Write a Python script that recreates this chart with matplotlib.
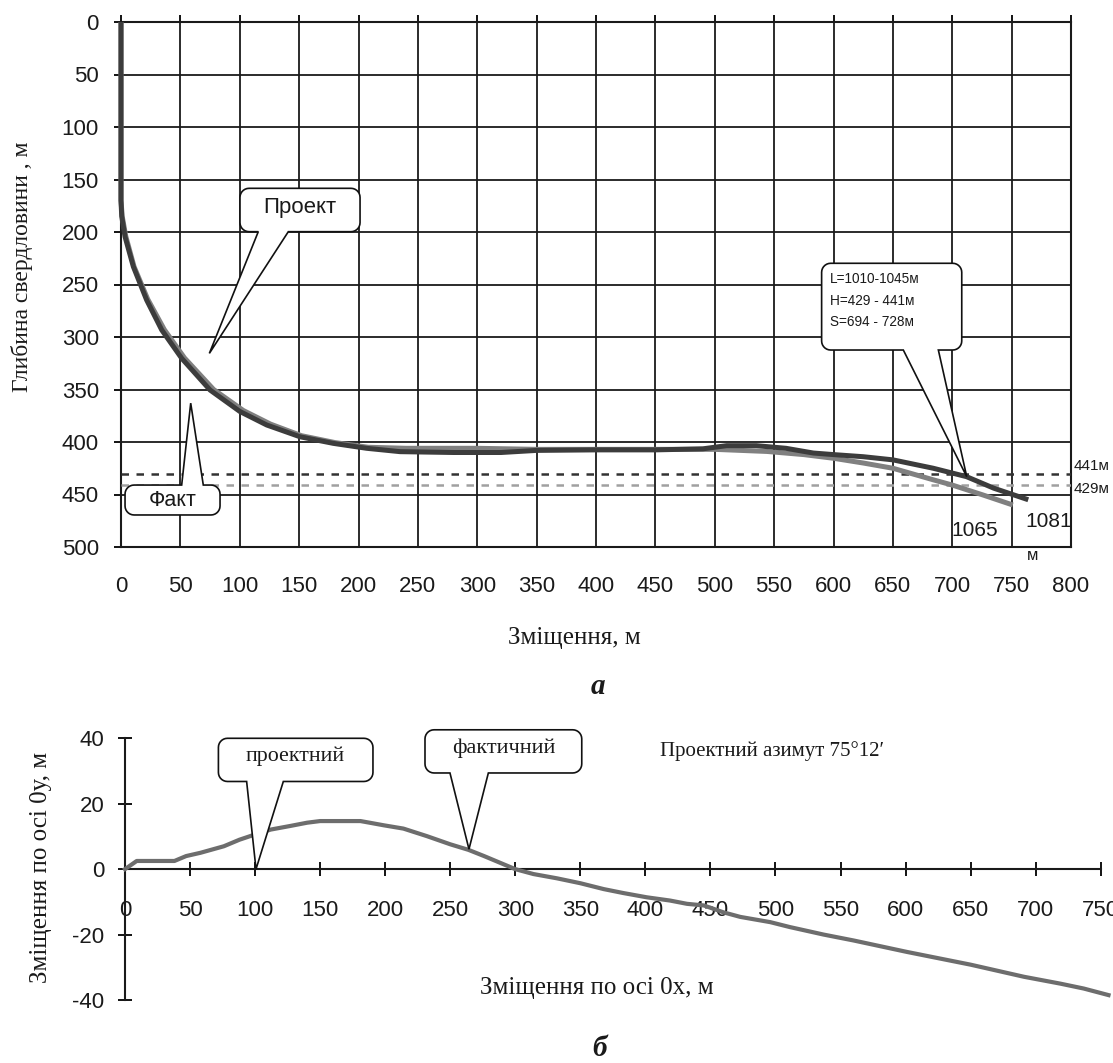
import numpy as np
import matplotlib
matplotlib.use("Agg")
import matplotlib.pyplot as plt
from matplotlib.patches import Polygon
from matplotlib.transforms import IdentityTransform

plt.rcParams["axes.unicode_minus"] = False

# ---------------- data ----------------
# top chart: horizontal displacement (m) vs depth (m)
fact_x = [0, 0, 0, 0.6, 3.4, 10.4, 21.6, 34.3, 51.1, 75, 100.2, 122.7, 150.7, 178.8, 206.9, 235,
          280, 320, 350, 400, 450, 490, 510, 535, 560, 583, 600, 625, 650, 684, 712, 735, 764]
fact_h = [0, 100, 170, 185, 204.5, 233, 264.8, 293.3, 320.3, 350.5, 371, 383.8, 395, 401.3, 406, 409.2,
          410, 410, 408, 407.5, 407.5, 406.5, 403.5, 403.5, 406, 410.5, 412, 414, 417, 425, 433, 444, 455]

proj_x = [0, 0, 0, 1, 4, 11, 22.5, 36.5, 53.5, 78, 103, 126, 152, 180, 208, 240,
          300, 350, 400, 450, 500, 544, 575, 600, 625, 650, 684, 700, 726, 751]
proj_h = [0, 100, 170, 185, 204, 233, 264, 293, 320, 350, 370, 383, 394, 400.5, 405, 406,
          406, 407, 407, 407, 407, 409, 412, 415.5, 420, 425, 436, 441, 450.5, 460]

level_dark = 430   # labelled "441м"
level_light = 441  # labelled "429м"

top_xticks = list(range(0, 801, 50))
top_yticks = list(range(0, 501, 50))

# bottom chart: displacement along 0x vs along 0y
bx = [0, 9, 38, 47, 58, 76, 88, 100, 112, 127, 140, 150, 181, 188, 199, 214, 232, 250, 264, 276, 288,
      300, 314, 332, 350, 368, 383, 401, 419, 432, 445, 460, 473, 496, 511, 537, 560, 601, 650, 691,
      719, 737, 756]
by = [0, 2.5, 2.5, 4, 5, 7, 9, 10.6, 12.1, 13.2, 14.2, 14.7, 14.7, 14.2, 13.4, 12.4, 10.1, 7.6, 5.9,
      4.0, 2.0, 0, -1.5, -2.8, -4.3, -6.1, -7.3, -8.6, -9.6, -10.6, -11.1, -13.2, -14.6, -16.2, -17.7,
      -20, -21.8, -25.3, -29.2, -32.9, -35, -36.5, -38.5]

bot_xticks = list(range(0, 751, 50))
bot_yticks = [-40, -20, 0, 20, 40]

# ---------------- figure ----------------
W, H = 1113, 1063
DPI = 100
fig = plt.figure(figsize=(W / DPI, H / DPI), dpi=DPI)
fig.patch.set_facecolor("white")

SANS = ["Liberation Sans", "DejaVu Sans"]
SERIF = ["Liberation Serif", "DejaVu Serif"]
TICK_FS = 16
INK = "#1a1a1a"

def fx(px):
    return px / W

def fy(py):
    return 1 - py / H

# ---------- top axes ----------
ax1 = fig.add_axes([fx(121), fy(547), 950 / W, 525 / H])
ax1.set_xlim(0, 800)
ax1.set_ylim(500, 0)
ax1.set_xticks(top_xticks)
ax1.set_yticks(top_yticks)
ax1.grid(True, color=INK, lw=1.3)
ax1.set_axisbelow(True)
for s in ax1.spines.values():
    s.set_color(INK)
    s.set_linewidth(1.5)
ax1.tick_params(axis="x", top=True, bottom=False, labeltop=False, labelbottom=True,
                direction="out", length=5, width=1.3, pad=16, labelsize=TICK_FS)
ax1.tick_params(axis="y", left=True, direction="out", length=5, width=1.3, pad=11,
                labelsize=TICK_FS)
for lab in ax1.get_xticklabels() + ax1.get_yticklabels():
    lab.set_fontfamily(SANS)
    lab.set_color(INK)

ax1.axhline(level_dark, color="#333333", lw=1.8, ls=(0, (3, 3)), zorder=3)
ax1.axhline(level_light, color="#a0a0a0", lw=1.8, ls=(0, (3, 3)), zorder=3)

ax1.plot(proj_x, proj_h, color="#808080", lw=3.6, solid_capstyle="butt", zorder=4, clip_on=False)
ax1.plot(fact_x, fact_h, color="#3c3c3c", lw=3.6, solid_capstyle="butt", zorder=5, clip_on=False)

ax1.text(802, 423, "441м", fontsize=11, family=SANS, color=INK, va="center", ha="left",
         clip_on=False)
ax1.text(802, 445, "429м", fontsize=11, family=SANS, color=INK, va="center", ha="left",
         clip_on=False)
ax1.text(719, 484, "1065", fontsize=15, family=SANS, color=INK, ha="center", va="center")
ax1.text(781, 475.5, "1081", fontsize=15, family=SANS, color=INK, ha="center", va="center")
ax1.text(768, 508, "м", fontsize=12, family=SANS, color=INK, ha="center", va="center",
         clip_on=False)

# ---------- bottom axes ----------
ax2 = fig.add_axes([fx(125), fy(1000), 975.7 / W, 261.7 / H])
ax2.set_xlim(0, 750)
ax2.set_ylim(-40, 40)
ax2.set_xticks(bot_xticks)
ax2.set_yticks(bot_yticks)
ax2.spines["left"].set_position(("data", 0))
ax2.spines["bottom"].set_position(("data", 0))
ax2.spines["top"].set_visible(False)
ax2.spines["right"].set_visible(False)
for s in ("left", "bottom"):
    ax2.spines[s].set_color(INK)
    ax2.spines[s].set_linewidth(1.5)
ax2.tick_params(axis="x", direction="inout", length=10, width=1.3, pad=17, labelsize=TICK_FS)
ax2.tick_params(axis="y", direction="inout", length=10, width=1.3, pad=10, labelsize=TICK_FS)
for lab in ax2.get_xticklabels() + ax2.get_yticklabels():
    lab.set_fontfamily(SANS)
    lab.set_color(INK)
ax2.plot(bx, by, color="#6d6d6d", lw=3.0, clip_on=False, zorder=4)

# ---------- callouts ----------
def callout(ax, box, base, tip, side="bottom", r=9, lw=1.2):
    """box=(x0,x1,ya,yb) in data, base=(xa,xb), tip=(x,y) in data."""
    T = ax.transData
    (x0, ya) = T.transform((box[0], box[2]))
    (x1, yb) = T.transform((box[1], box[3]))
    ylo, yhi = min(ya, yb), max(ya, yb)
    xl, xr = min(x0, x1), max(x0, x1)
    ba = T.transform((base[0], box[2]))[0]
    bb = T.transform((base[1], box[2]))[0]
    ba, bb = min(ba, bb), max(ba, bb)
    tx, ty = T.transform(tip)
    pts = []
    def arc(cx, cy, a0, a1):
        for a in np.linspace(np.radians(a0), np.radians(a1), 8):
            pts.append((cx + r * np.cos(a), cy + r * np.sin(a)))
    arc(xl + r, ylo + r, 180, 270)
    if side == "bottom":
        pts += [(ba, ylo), (tx, ty), (bb, ylo)]
    arc(xr - r, ylo + r, 270, 360)
    arc(xr - r, yhi - r, 0, 90)
    if side == "top":
        pts += [(bb, yhi), (tx, ty), (ba, yhi)]
    arc(xl + r, yhi - r, 90, 180)
    poly = Polygon(pts, closed=True, facecolor="white", edgecolor="#111111", lw=lw,
                   transform=IdentityTransform(), zorder=10, clip_on=False)
    ax.add_artist(poly)

# top chart callouts (data coordinates of ax1: x, depth)
callout(ax1, (100.2, 201.3, 199.7, 158.4), (115.6, 140.9), (74.4, 315.6), side="bottom")
ax1.text(150.7, 177, "Проект", fontsize=16, family=SANS, color=INK,
         ha="center", va="center", zorder=11)

callout(ax1, (3.4, 83.4, 441, 469.5), (51.1, 69.3), (58.7, 363), side="top")
ax1.text(43.4, 456, "Факт", fontsize=15.5, family=SANS, color=INK,
         ha="center", va="center", zorder=11, clip_on=False)

callout(ax1, (590, 708, 312.4, 229.8), (658.8, 688.3), (712.2, 433), side="bottom")
for yy, t in zip([245, 265.5, 286], ["L=1010-1045м", "H=429 - 441м", "S=694 - 728м"]):
    ax1.text(597, yy, t, fontsize=9.8, family=SANS, color=INK, ha="left", va="center",
             zorder=11)

# bottom chart callouts
callout(ax2, (71.8, 190.6, 26.8, 40.0), (93.5, 121.7), (100.7, 0), side="bottom")
ax2.text(131, 34.4, "проектний", fontsize=15.8, family=SERIF, color=INK,
         ha="center", va="center", zorder=11, clip_on=False)
callout(ax2, (230.6, 351.1, 29.4, 42.6), (249.8, 279.3), (264.4, 6.1), side="bottom")
ax2.text(291, 37, "фактичний", fontsize=16, family=SERIF, color=INK,
         ha="center", va="center", zorder=11, clip_on=False)
ax2.text(411, 36, "Проектний азимут 75°12′", fontsize=15, family=SERIF, color=INK,
         ha="left", va="center", clip_on=False)

# ---------- axis titles / captions ----------
fig.text(fx(22), fy(267), "Глибина свердловини , м", rotation=90, fontsize=17, family=SERIF,
         color=INK, ha="center", va="center")
fig.text(fx(574), fy(638), "Зміщення, м", fontsize=18, family=SERIF, color=INK,
         ha="center", va="center")
fig.text(fx(598), fy(686), "а", fontsize=21, family=SERIF, weight="bold", style="italic",
         color=INK, ha="center", va="center")
fig.text(fx(41), fy(867), "Зміщення по осі 0у, м", rotation=90, fontsize=18, family=SERIF,
         color=INK, ha="center", va="center")
fig.text(fx(597), fy(988), "Зміщення по осі 0х, м", fontsize=18, family=SERIF, color=INK,
         ha="center", va="center")
fig.text(fx(600), fy(1048), "б", fontsize=21, family=SERIF, weight="bold", style="italic",
         color=INK, ha="center", va="center")

fig.savefig("out.png", dpi=DPI, facecolor="white")
